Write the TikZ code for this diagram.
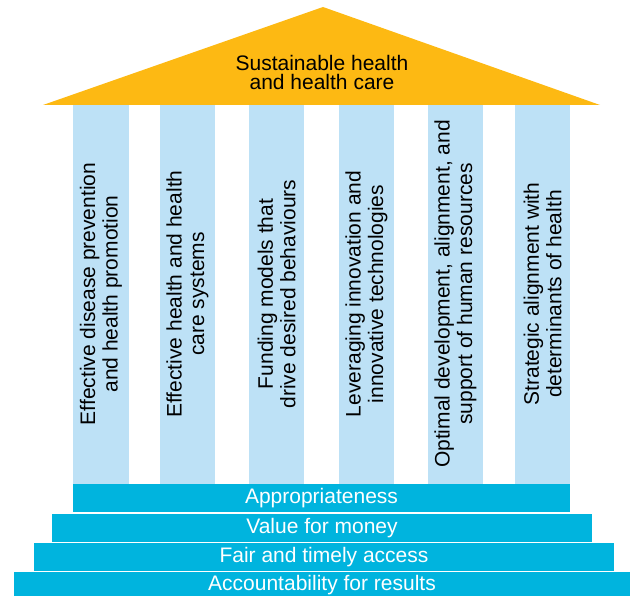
\documentclass[tikz,border=0pt]{standalone}
\usepackage{fontspec}
\setmainfont{Liberation Sans}
\definecolor{roofc}{HTML}{FDB913}
\definecolor{colc}{HTML}{BDE1F6}
\definecolor{stepc}{HTML}{00B4DE}
\begin{document}
\begin{tikzpicture}[x=1pt,y=-1pt,
  pillar/.style={fill=colc,draw=none},
  pillartext/.style={rotate=90,align=center,inner sep=0pt,font=\fontsize{21}{22.5}\selectfont},
  stepbox/.style={fill=stepc,draw=none,inner sep=0pt,text=white,text height=15pt,text depth=5pt,minimum height=28pt,font=\fontsize{21}{23}\selectfont},
  rooftext/.style={align=center,inner sep=0pt,font=\fontsize{21}{19}\selectfont}]
\useasboundingbox (0,0) rectangle (631,596);
% roof
\fill[roofc] (43,105) -- (323,7) -- (600,105) -- cycle;
\node[rooftext] (roof) at (322,72) {Sustainable health\\and health care};
% pillars
\fill[pillar] (73,105) rectangle (129,484);
\fill[pillar] (160,105) rectangle (215,484);
\fill[pillar] (249,105) rectangle (304,484);
\fill[pillar] (339,105) rectangle (394,484);
\fill[pillar] (428,105) rectangle (483,484);
\fill[pillar] (515,105) rectangle (570,484);
\node[pillartext] (p1) at (101,294) {Effective disease prevention\\and health promotion};
\node[pillartext] (p2) at (187.5,294) {Effective health and health\\care systems};
\node[pillartext] (p3) at (276.5,294) {Funding models that\\drive desired behaviours};
\node[pillartext] (p4) at (366.5,294) {Leveraging innovation and\\innovative technologies};
\node[pillartext] (p5) at (455.5,294) {Optimal development, alignment, and\\support of human resources};
\node[pillartext] (p6) at (542.5,294) {Strategic alignment with\\determinants of health};
% steps
\node[stepbox,minimum width=497pt] (s1) at (321.5,498) {Appropriateness};
\node[stepbox,minimum width=540pt] (s2) at (322,528) {Value for money};
\node[stepbox,minimum width=580pt] (s3) at (324,557) {Fair and timely access};
\node[stepbox,minimum width=616pt,minimum height=26pt] (s4) at (322,585) {Accountability for results};
\end{tikzpicture}
\end{document}
